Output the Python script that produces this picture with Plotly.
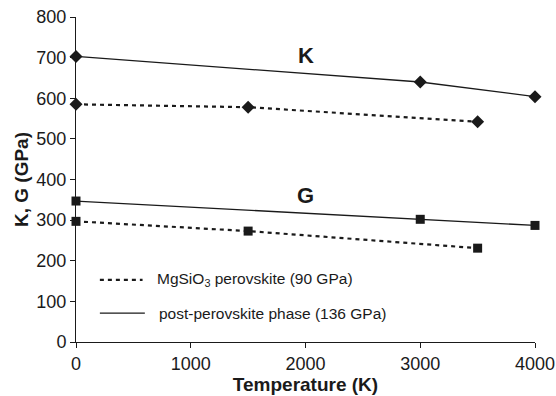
import plotly.graph_objects as go

# Data
K_post_T = [0, 3000, 4000]
K_post = [703, 640, 604]
K_pv_T = [0, 1500, 3500]
K_pv = [585, 578, 542]
G_post_T = [0, 3000, 4000]
G_post = [347, 302, 287]
G_pv_T = [0, 1500, 3500]
G_pv = [297, 273, 231]

x_ticks = [0, 1000, 2000, 3000, 4000]
y_ticks = [0, 100, 200, 300, 400, 500, 600, 700, 800]

FONT = "Liberation Sans, Arial, sans-serif"
C = "#1a1a1a"

fig = go.Figure()
solid = dict(color=C, width=1.3)
dotted = dict(color=C, width=2.2, dash="4px,4px")

fig.add_trace(go.Scatter(x=K_post_T, y=K_post, mode="lines+markers", line=solid,
                         marker=dict(symbol="diamond", size=10, color=C), showlegend=False, cliponaxis=False))
fig.add_trace(go.Scatter(x=K_pv_T, y=K_pv, mode="lines+markers", line=dotted,
                         marker=dict(symbol="diamond", size=10, color=C), showlegend=False, cliponaxis=False))
fig.add_trace(go.Scatter(x=G_post_T, y=G_post, mode="lines+markers", line=solid,
                         marker=dict(symbol="square", size=9, color=C), showlegend=False, cliponaxis=False))
fig.add_trace(go.Scatter(x=G_pv_T, y=G_pv, mode="lines+markers", line=dotted,
                         marker=dict(symbol="square", size=9, color=C), showlegend=False, cliponaxis=False))

# Legend drawn manually
fig.add_shape(type="line", xref="paper", yref="paper", x0=0.052, x1=0.145, y0=0.191, y1=0.191,
              line=dict(color=C, width=2.2, dash="4px,4px"))
fig.add_shape(type="line", xref="paper", yref="paper", x0=0.052, x1=0.15, y0=0.089, y1=0.089,
              line=dict(color=C, width=1.3))
fig.add_annotation(xref="paper", yref="paper", x=0.172, y=0.191, xanchor="left", yanchor="middle",
                   text="MgSiO<sub>3</sub> perovskite (90 GPa)", showarrow=False,
                   font=dict(family=FONT, size=15.5, color=C))
fig.add_annotation(xref="paper", yref="paper", x=0.177, y=0.089, xanchor="left", yanchor="middle",
                   text="post-perovskite phase (136 GPa)", showarrow=False,
                   font=dict(family=FONT, size=15.5, color=C))

fig.add_annotation(x=2000, y=705, text="<b>K</b>", showarrow=False,
                   font=dict(family=FONT, size=22, color=C))
fig.add_annotation(x=2000, y=360, text="<b>G</b>", showarrow=False,
                   font=dict(family=FONT, size=22, color=C))

fig.update_xaxes(range=[0, 4000], tickvals=x_ticks, ticks="outside", ticklen=5, tickcolor=C,
                 showline=True, linecolor=C, linewidth=1, showgrid=False, zeroline=False,
                 automargin=False,
                 tickfont=dict(family=FONT, size=18, color=C),
                 title=dict(text="<b>Temperature (K)</b>", font=dict(family=FONT, size=19, color=C), standoff=2))
fig.update_yaxes(range=[0, 800], tickvals=y_ticks, ticks="outside", ticklen=5, tickcolor=C,
                 showline=True, linecolor=C, linewidth=1, showgrid=False, zeroline=False,
                 automargin=False,
                 tickfont=dict(family=FONT, size=18, color=C),
                 title=dict(text="<b>K, G (GPa)</b>", font=dict(family=FONT, size=19, color=C), standoff=2))

fig.update_layout(width=556, height=396, margin=dict(l=76, r=21, t=17, b=54),
                  plot_bgcolor="white", paper_bgcolor="white")

fig.write_html("out.html")
